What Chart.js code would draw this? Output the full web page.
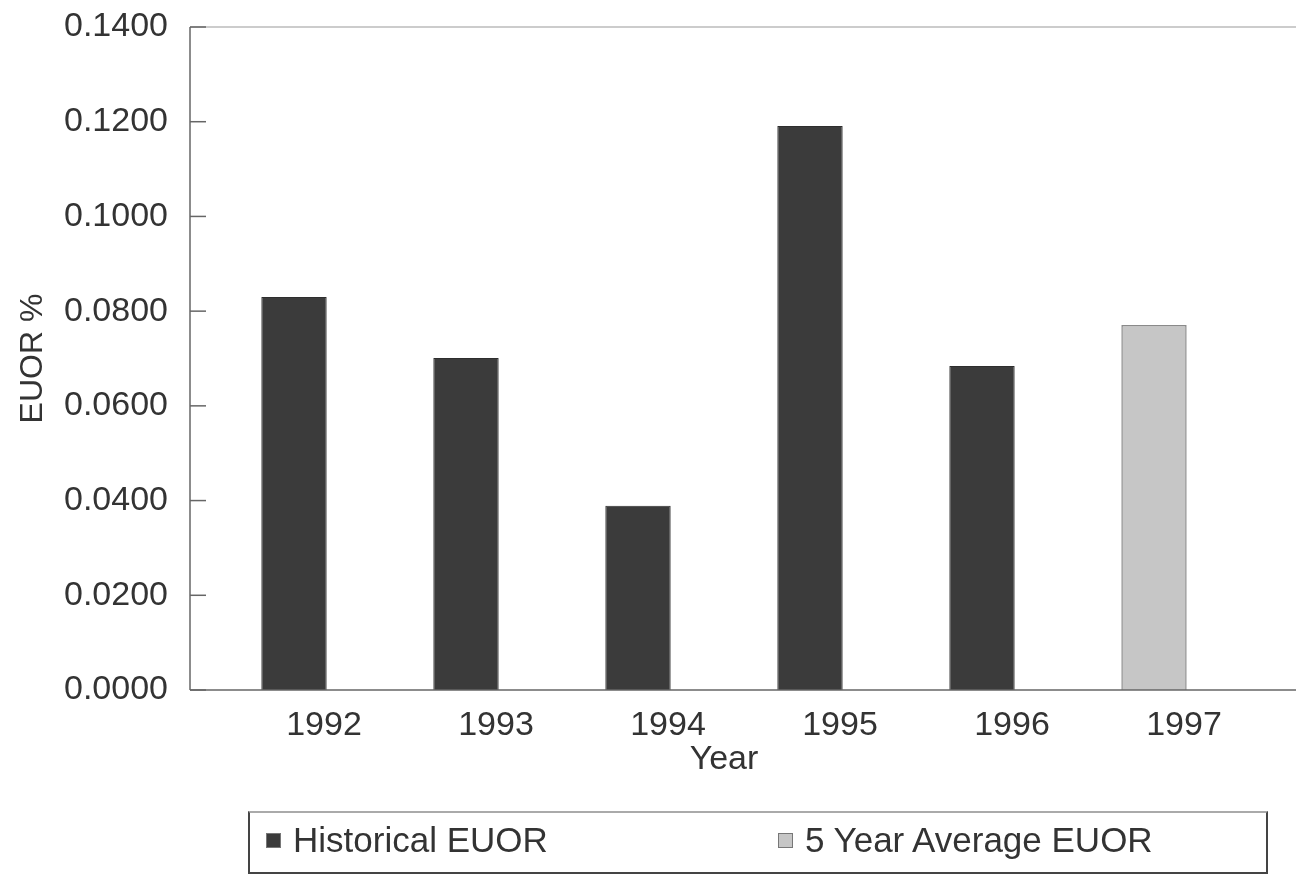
<!DOCTYPE html>
<html>
<head>
<meta charset="utf-8">
<script src="https://cdn.jsdelivr.net/npm/chart.js@4/dist/chart.umd.min.js"></script>
<style>
  html, body { margin: 0; padding: 0; background: #fff; }
  #wrap { position: relative; width: 1296px; height: 877px; }
  #legend {
    position: absolute; left: 248px; top: 811px; width: 1020px; height: 63px;
    border: 2px solid #444; border-top-color: #aaa; box-sizing: border-box;
    font-family: "Liberation Sans", Arial, sans-serif; font-size: 35px; color: #333;
  }
  .lg-item { position: absolute; top: 7px; display: flex; align-items: center; }
  .lg-box { width: 15px; height: 15px; margin-right: 12px; box-sizing: border-box; border: 1px solid #777; }
</style>
</head>
<body>
<div id="wrap">
  <canvas id="c" width="1296" height="877"></canvas>
  <div id="legend"></div>
</div>
<script>
// EUOR par annee
const years = ["1992", "1993", "1994", "1995", "1996", "1997"];
const historical = [0.0830, 0.0701, 0.0389, 0.1191, 0.0684, null];
const fiveYearAvg = [null, null, null, null, null, 0.0771];
const yTicks = [0, 0.02, 0.04, 0.06, 0.08, 0.10, 0.12, 0.14];

const FONT = "'Liberation Sans', Arial, sans-serif";
const TXT = "#333";
const AXIS_X = 190; // l'axe vertical est un peu a gauche de la zone des barres

// cadre : axe Y, axe X prolonge jusqu'au bord, ligne du haut, graduations internes
const framePlugin = {
  id: "frame",
  afterDraw(chart) {
    const { ctx, chartArea: a } = chart;
    ctx.save();
    ctx.strokeStyle = "#bbb";
    ctx.lineWidth = 1.5;
    ctx.beginPath(); ctx.moveTo(AXIS_X, a.top); ctx.lineTo(chart.width, a.top); ctx.stroke();
    ctx.strokeStyle = "#666";
    ctx.beginPath(); ctx.moveTo(AXIS_X, a.bottom); ctx.lineTo(chart.width, a.bottom); ctx.stroke();
    ctx.beginPath(); ctx.moveTo(AXIS_X, a.top); ctx.lineTo(AXIS_X, a.bottom); ctx.stroke();
    const y = chart.scales.y;
    yTicks.forEach(v => {
      const py = y.getPixelForValue(v);
      ctx.beginPath(); ctx.moveTo(AXIS_X, py); ctx.lineTo(AXIS_X + 16, py); ctx.stroke();
    });
    ctx.restore();
  }
};

const chart = new Chart(document.getElementById("c"), {
  type: "bar",
  data: {
    labels: years,
    datasets: [
      {
        label: "Historical EUOR",
        data: historical,
        backgroundColor: "#3b3b3b",
        borderColor: "#2e2e2e",
        borderWidth: 1,
      },
      {
        label: "5 Year Average EUOR",
        data: fiveYearAvg,
        backgroundColor: "#c6c6c6",
        borderColor: "#8a8a8a",
        borderWidth: 1.5,
      },
    ],
  },
  options: {
    responsive: false,
    animation: false,
    layout: { padding: { top: 27, right: 56, bottom: 93, left: 0 } },
    plugins: { legend: { display: false }, tooltip: { enabled: false } },
    datasets: { bar: { grouped: false, barPercentage: 0.38, categoryPercentage: 1 } },
    scales: {
      x: {
        grid: { display: false, drawTicks: false },
        border: { display: false },
        ticks: { color: TXT, padding: 15, labelOffset: 30, font: { family: FONT, size: 34 } },
        title: { display: true, text: "Year", color: TXT, padding: { top: 0, bottom: 4 }, font: { family: FONT, size: 34 } },
        afterFit: s => { s.height = 94; },
      },
      y: {
        min: 0, max: 0.14,
        afterBuildTicks: s => { s.ticks = yTicks.map(v => ({ value: v })); },
        grid: { display: false, drawTicks: false },
        border: { display: false },
        ticks: { color: TXT, padding: 40, font: { family: FONT, size: 34 }, callback: v => Number(v).toFixed(4) },
        title: { display: true, text: "EUOR %", color: TXT, padding: { top: 14, bottom: 0 }, font: { family: FONT, size: 32 } },
        afterFit: s => { s.width = 208; s.paddingTop = 0; s.paddingBottom = 0; },
      },
    },
  },
  plugins: [framePlugin],
});

// legende encadree, construite depuis les datasets
const legendPos = [16, 528];
document.getElementById("legend").innerHTML = chart.data.datasets.map((d, i) => `
  <div class="lg-item" style="left:${legendPos[i]}px">
    <span class="lg-box" style="background:${d.backgroundColor}"></span>${d.label}
  </div>`).join("");
</script>
</body>
</html>
